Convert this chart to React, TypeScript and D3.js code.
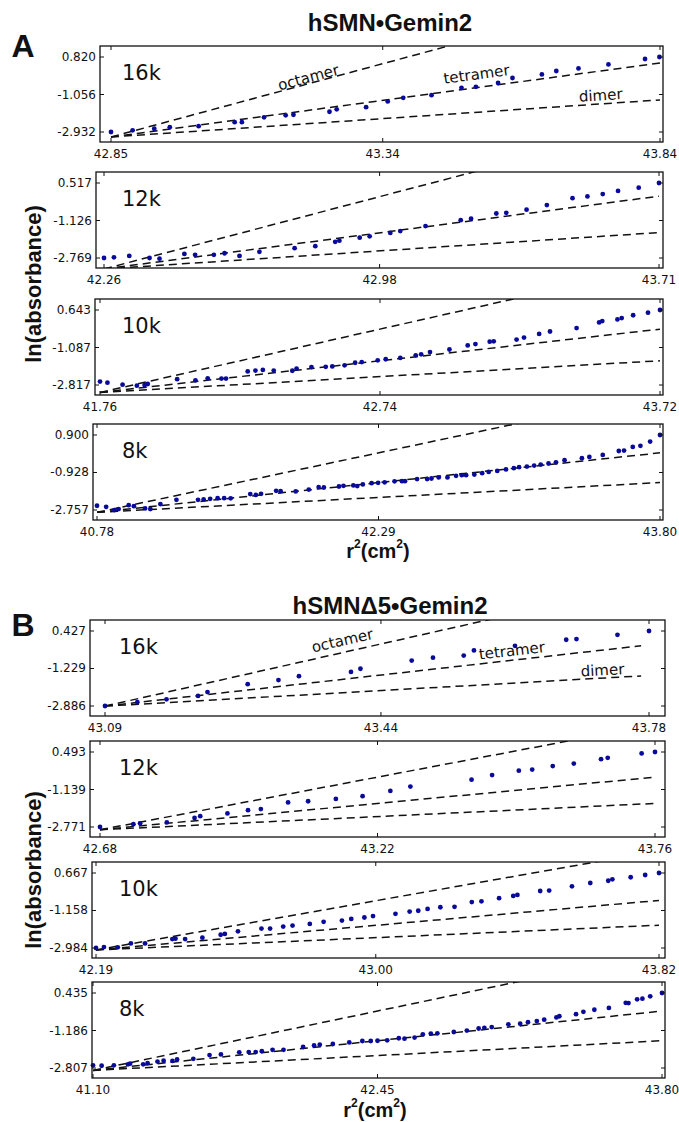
import React from 'react';
import * as d3 from 'd3';

// ---------- DATA ----------
// Panel A: hSMN•Gemin2
const A16_R2 = [42.85,42.889,42.928,42.956,43.008,43.073,43.086,43.126,43.165,43.179,43.244,43.257,43.310,43.349,43.377,43.428,43.482,43.508,43.548,43.574,43.627,43.653,43.693,43.747,43.813,43.839];
const A16_LN = [-2.932,-2.85,-2.77,-2.69,-2.64,-2.44,-2.44,-2.20,-2.10,-2.07,-1.92,-1.80,-1.69,-1.40,-1.22,-1.09,-0.72,-0.67,-0.48,-0.23,-0.05,0.12,0.25,0.45,0.72,0.82];

const A12_R2 = [42.26,42.286,42.326,42.379,42.405,42.470,42.498,42.547,42.575,42.614,42.666,42.758,42.812,42.864,42.875,42.928,42.954,43.008,43.034,43.100,43.192,43.219,43.285,43.311,43.364,43.417,43.484,43.523,43.563,43.603,43.657,43.71];
const A12_LN = [-2.77,-2.74,-2.68,-2.77,-2.80,-2.59,-2.63,-2.63,-2.56,-2.68,-2.50,-2.34,-2.25,-2.06,-2.01,-1.88,-1.82,-1.67,-1.59,-1.37,-1.11,-1.05,-0.82,-0.79,-0.65,-0.45,-0.15,-0.07,0.03,0.17,0.31,0.517];

const A10_R2 = [41.76,41.786,41.839,41.889,41.916,41.927,42.030,42.094,42.137,42.185,42.201,42.277,42.304,42.330,42.368,42.433,42.448,42.500,42.550,42.573,42.616,42.653,42.676,42.732,42.760,42.811,42.865,42.884,42.915,42.983,43.047,43.074,43.124,43.138,43.218,43.244,43.297,43.335,43.428,43.507,43.518,43.571,43.586,43.626,43.678,43.72];
const A10_LN = [-2.66,-2.71,-2.80,-2.85,-2.82,-2.77,-2.55,-2.60,-2.51,-2.52,-2.52,-2.19,-2.15,-2.12,-2.15,-2.16,-2.06,-1.99,-1.98,-1.96,-1.91,-1.79,-1.76,-1.68,-1.63,-1.57,-1.45,-1.40,-1.30,-1.18,-0.99,-0.93,-0.82,-0.80,-0.72,-0.63,-0.46,-0.35,-0.19,0.07,0.13,0.21,0.27,0.40,0.52,0.643];

const A8_R2 = [40.78,40.829,40.873,40.896,40.950,40.978,41.038,41.066,41.120,41.206,41.322,41.352,41.387,41.427,41.462,41.497,41.602,41.632,41.660,41.741,41.765,41.846,41.916,41.969,41.997,42.078,42.102,42.155,42.176,42.206,42.253,42.288,42.323,42.376,42.416,42.432,42.497,42.551,42.574,42.613,42.660,42.706,42.737,42.760,42.804,42.846,42.881,42.927,42.974,43.016,43.044,43.086,43.125,43.160,43.202,43.242,43.288,43.381,43.421,43.493,43.579,43.607,43.654,43.695,43.747,43.80];
const A8_LN = [-2.55,-2.60,-2.76,-2.71,-2.52,-2.57,-2.68,-2.71,-2.47,-2.26,-2.26,-2.24,-2.21,-2.18,-2.18,-2.19,-1.98,-2.02,-1.97,-1.82,-1.84,-1.85,-1.76,-1.64,-1.66,-1.61,-1.58,-1.56,-1.59,-1.51,-1.45,-1.43,-1.41,-1.36,-1.35,-1.35,-1.25,-1.25,-1.22,-1.17,-1.17,-1.09,-1.06,-1.06,-1.03,-0.96,-0.90,-0.85,-0.78,-0.72,-0.67,-0.64,-0.59,-0.54,-0.49,-0.43,-0.33,-0.23,-0.17,-0.07,0.12,0.14,0.32,0.37,0.58,0.90];

// Panel B: hSMNΔ5•Gemin2
const B16_R2 = [43.09,43.131,43.168,43.208,43.220,43.271,43.310,43.336,43.402,43.414,43.479,43.506,43.545,43.558,43.610,43.675,43.688,43.740,43.78];
const B16_LN = [-2.886,-2.72,-2.59,-2.44,-2.27,-1.92,-1.74,-1.57,-1.38,-1.24,-0.88,-0.75,-0.66,-0.43,-0.23,0.04,0.07,0.26,0.427];

const B12_R2 = [42.68,42.745,42.758,42.810,42.864,42.875,42.928,42.968,42.993,43.046,43.085,43.139,43.191,43.245,43.284,43.403,43.443,43.495,43.521,43.561,43.602,43.655,43.668,43.734,43.76];
const B12_LN = [-2.771,-2.65,-2.61,-2.57,-2.38,-2.30,-2.18,-2.04,-1.99,-1.70,-1.65,-1.55,-1.43,-1.20,-1.01,-0.71,-0.51,-0.32,-0.27,-0.12,-0.01,0.18,0.24,0.43,0.493];

const B10_R2 = [42.19,42.213,42.253,42.291,42.332,42.411,42.420,42.448,42.498,42.551,42.563,42.601,42.669,42.694,42.732,42.759,42.809,42.849,42.902,42.929,42.967,42.992,43.057,43.098,43.123,43.150,43.187,43.228,43.278,43.306,43.357,43.398,43.410,43.476,43.502,43.568,43.621,43.673,43.685,43.738,43.780,43.82];
const B10_LN = [-2.984,-2.94,-2.95,-2.76,-2.76,-2.55,-2.53,-2.55,-2.48,-2.34,-2.30,-2.17,-2.04,-2.04,-1.94,-1.89,-1.81,-1.71,-1.65,-1.57,-1.50,-1.43,-1.32,-1.21,-1.17,-1.08,-1.00,-0.98,-0.75,-0.71,-0.56,-0.45,-0.40,-0.21,-0.19,0.02,0.18,0.29,0.36,0.46,0.57,0.667];

const B8_R2 = [41.10,41.141,41.199,41.266,41.276,41.338,41.359,41.406,41.435,41.477,41.499,41.576,41.653,41.707,41.794,41.839,41.872,41.901,41.952,42.004,42.097,42.149,42.176,42.238,42.316,42.378,42.418,42.45,42.496,42.551,42.578,42.626,42.665,42.703,42.734,42.812,42.874,42.930,42.957,42.992,43.071,43.127,43.164,43.206,43.241,43.299,43.313,43.392,43.427,43.479,43.548,43.628,43.641,43.682,43.707,43.744,43.80];
const B8_LN = [-2.69,-2.71,-2.69,-2.65,-2.62,-2.65,-2.60,-2.53,-2.49,-2.50,-2.44,-2.41,-2.25,-2.22,-2.13,-2.12,-2.12,-2.08,-2.02,-2.02,-1.90,-1.83,-1.80,-1.77,-1.70,-1.64,-1.64,-1.63,-1.61,-1.52,-1.54,-1.49,-1.35,-1.32,-1.31,-1.25,-1.19,-1.10,-1.07,-1.04,-0.92,-0.89,-0.83,-0.78,-0.72,-0.62,-0.57,-0.48,-0.38,-0.29,-0.21,0.01,0.00,0.16,0.19,0.29,0.435];

// tick values (x: r², y: ln(absorbance))
const A16_XT = [42.85, 43.34, 43.84]; const A16_YT = [-2.932, -1.056, 0.820];
const A12_XT = [42.26, 42.98, 43.71]; const A12_YT = [-2.769, -1.126, 0.517];
const A10_XT = [41.76, 42.74, 43.72]; const A10_YT = [-2.817, -1.087, 0.643];
const A8_XT = [40.78, 42.29, 43.80];  const A8_YT = [-2.757, -0.928, 0.900];
const B16_XT = [43.09, 43.44, 43.78]; const B16_YT = [-2.886, -1.229, 0.427];
const B12_XT = [42.68, 43.22, 43.76]; const B12_YT = [-2.771, -1.139, 0.493];
const B10_XT = [42.19, 43.00, 43.82]; const B10_YT = [-2.984, -1.158, 0.667];
const B8_XT = [41.10, 42.45, 43.80];  const B8_YT = [-2.807, -1.186, 0.435];

// model lines: start point [r², ln] , end r², slopes [dimer, tetramer, octamer]
const A16_LINE = [42.85, -3.18, 43.84]; const A16_SLOPES = [1.87, 3.74, 7.48];
const A12_LINE = [42.26, -3.25, 43.71]; const A12_SLOPES = [1.1, 2.2, 4.4];
const A10_LINE = [41.76, -3.16, 43.72]; const A10_SLOPES = [0.745, 1.49, 2.98];
const A8_LINE = [40.78, -2.87, 43.80];  const A8_SLOPES = [0.48, 0.96, 1.92];
const B16_LINE = [43.09, -2.89, 43.77]; const B16_SLOPES = [1.96, 3.92, 7.84];
const B12_LINE = [42.68, -2.89, 43.76]; const B12_SLOPES = [1.06, 2.12, 4.24];
const B10_LINE = [42.19, -3.08, 43.82]; const B10_SLOPES = [0.74, 1.48, 2.96];
const B8_LINE = [41.10, -2.91, 43.80];  const B8_SLOPES = [0.475, 0.95, 1.90];

const SPEEDS = ['16k', '12k', '10k', '8k'];
const LINE_NAMES = ['dimer', 'tetramer', 'octamer'];
// label anchors [r², ln] for dimer, tetramer, octamer
const A16_LABELS = [[43.733, -1.10], [43.509, -0.05], [43.206, -0.21]];
const B16_LABELS = [[43.721, -1.31], [43.606, -0.45], [43.391, 0.0]];

const PANELS = [
  { key: 'A16', r2: A16_R2, ln: A16_LN, xt: A16_XT, yt: A16_YT, line: A16_LINE, slopes: A16_SLOPES, speed: SPEEDS[0], labels: A16_LABELS },
  { key: 'A12', r2: A12_R2, ln: A12_LN, xt: A12_XT, yt: A12_YT, line: A12_LINE, slopes: A12_SLOPES, speed: SPEEDS[1] },
  { key: 'A10', r2: A10_R2, ln: A10_LN, xt: A10_XT, yt: A10_YT, line: A10_LINE, slopes: A10_SLOPES, speed: SPEEDS[2] },
  { key: 'A8', r2: A8_R2, ln: A8_LN, xt: A8_XT, yt: A8_YT, line: A8_LINE, slopes: A8_SLOPES, speed: SPEEDS[3] },
  { key: 'B16', r2: B16_R2, ln: B16_LN, xt: B16_XT, yt: B16_YT, line: B16_LINE, slopes: B16_SLOPES, speed: SPEEDS[0], labels: B16_LABELS },
  { key: 'B12', r2: B12_R2, ln: B12_LN, xt: B12_XT, yt: B12_YT, line: B12_LINE, slopes: B12_SLOPES, speed: SPEEDS[1] },
  { key: 'B10', r2: B10_R2, ln: B10_LN, xt: B10_XT, yt: B10_YT, line: B10_LINE, slopes: B10_SLOPES, speed: SPEEDS[2] },
  { key: 'B8', r2: B8_R2, ln: B8_LN, xt: B8_XT, yt: B8_YT, line: B8_LINE, slopes: B8_SLOPES, speed: SPEEDS[3] },
];

// ---------- LAYOUT ----------
const W = 679, HGT = 1122;
const PH = 96, PAD_T = 11, PAD_B = 10, TICK = 4;
const LAYOUT: Record<string, { left: number; right: number; top: number; padL: number; padR: number; lx: number }> = {
  A16: { left: 100, right: 663, top: 46, padL: 11, padR: 3, lx: 122 },
  A12: { left: 96, right: 663, top: 172, padL: 8, padR: 4, lx: 122 },
  A10: { left: 95, right: 663, top: 299, padL: 5, padR: 3, lx: 122 },
  A8: { left: 93, right: 663, top: 424, padL: 4, padR: 3, lx: 122 },
  B16: { left: 90, right: 665, top: 620, padL: 15, padR: 16, lx: 119 },
  B12: { left: 90, right: 665, top: 741, padL: 10, padR: 10, lx: 119 },
  B10: { left: 92, right: 665, top: 862, padL: 4, padR: 6, lx: 119 },
  B8: { left: 92, right: 665, top: 982, padL: 1, padR: 3, lx: 119 },
};

const TICK_FONT = '"DejaVu Sans", Verdana, sans-serif';
const BOLD_FONT = '"Liberation Sans", Arial, sans-serif';
const DOT = '#0a0a9a';

function Panel({ p }: { p: any }) {
  const L = LAYOUT[p.key];
  const top = L.top, bottom = L.top + PH;
  const x = d3.scaleLinear().domain([p.xt[0], p.xt[2]]).range([L.left + L.padL, L.right - L.padR]);
  const y = d3.scaleLinear().domain([p.yt[0], p.yt[2]]).range([bottom - PAD_B, top + PAD_T]);
  const line = d3.line<[number, number]>().x(d => x(d[0])).y(d => y(d[1]));
  const [x0, y0, x1] = p.line;
  const clipId = 'clip-' + p.key;
  const pts = d3.range(Math.min(p.r2.length, p.ln.length)).map(i => [p.r2[i], p.ln[i]]);
  const angle = (s: number) => {
    const dx = x(x0 + 1) - x(x0);
    const dy = y(y0 + s) - y(y0);
    return (Math.atan2(dy, dx) * 180) / Math.PI;
  };
  return (
    <g>
      <defs>
        <clipPath id={clipId}>
          <rect x={L.left} y={top} width={L.right - L.left} height={PH} />
        </clipPath>
      </defs>
      <g clipPath={`url(#${clipId})`}>
        {p.slopes.map((s: number, i: number) => (
          <path key={i} d={line([[x0, y0], [x1, y0 + s * (x1 - x0)]]) || ''} fill="none" stroke="#111" strokeWidth={1.5} strokeDasharray="8,5" />
        ))}
      </g>
      {pts.map((d, i) => (
        <circle key={i} cx={x(d[0])} cy={y(d[1])} r={2.4} fill={DOT} />
      ))}
      <rect x={L.left} y={top} width={L.right - L.left} height={PH} fill="none" stroke="#111" strokeWidth={1.3} />
      {p.xt.map((t: number, i: number) => (
        <g key={'x' + i}>
          <line x1={x(t)} x2={x(t)} y1={bottom} y2={bottom - TICK} stroke="#111" strokeWidth={1} />
          <line x1={x(t)} x2={x(t)} y1={top} y2={top + TICK} stroke="#111" strokeWidth={1} />
          <text x={x(t)} y={bottom + 12} textAnchor="middle" dominantBaseline="central" fontFamily={TICK_FONT} fontSize={12} fill="#111">{t.toFixed(2)}</text>
        </g>
      ))}
      {p.yt.map((t: number, i: number) => (
        <g key={'y' + i}>
          <line x1={L.left} x2={L.left + TICK} y1={y(t)} y2={y(t)} stroke="#111" strokeWidth={1} />
          <line x1={L.right} x2={L.right - TICK} y1={y(t)} y2={y(t)} stroke="#111" strokeWidth={1} />
          <text x={L.left - 4} y={y(t)} textAnchor="end" dominantBaseline="central" fontFamily={TICK_FONT} fontSize={12} fill="#111">{t.toFixed(3)}</text>
        </g>
      ))}
      <text x={L.lx} y={top + 27} dominantBaseline="central" fontFamily={TICK_FONT} fontSize={21} fill="#111">{p.speed}</text>
      {p.labels && p.labels.map((a: number[], i: number) => (
        <text key={'l' + i} transform={`translate(${x(a[0])},${y(a[1])}) rotate(${angle(p.slopes[i])})`} textAnchor="middle" dominantBaseline="central" fontFamily={TICK_FONT} fontSize={15} fill="#111">{LINE_NAMES[i]}</text>
      ))}
    </g>
  );
}

function XLabel({ cx, cy }: { cx: number; cy: number }) {
  return (
    <text x={cx} y={cy} textAnchor="middle" dominantBaseline="central" fontFamily={BOLD_FONT} fontWeight="bold" fontSize={20} fill="#111">
      r<tspan fontSize={12} dy={-7}>2</tspan><tspan dy={7}>(cm</tspan><tspan fontSize={12} dy={-7}>2</tspan><tspan dy={7}>)</tspan>
    </text>
  );
}

export default function App() {
  return (
    <svg width={W} height={HGT} style={{ display: 'block', position: 'absolute', left: 0, top: 0, background: '#fff' }}>
      <rect width={W} height={HGT} fill="#fff" />
      <text x={390} y={22} textAnchor="middle" dominantBaseline="central" fontFamily={BOLD_FONT} fontWeight="bold" fontSize={24} fill="#111">hSMN•Gemin2</text>
      <text x={23} y={46} textAnchor="middle" dominantBaseline="central" fontFamily={BOLD_FONT} fontWeight="bold" fontSize={32} fill="#111">A</text>
      <text x={390} y={605} textAnchor="middle" dominantBaseline="central" fontFamily={BOLD_FONT} fontWeight="bold" fontSize={24} fill="#111">hSMNΔ5•Gemin2</text>
      <text x={23} y={625} textAnchor="middle" dominantBaseline="central" fontFamily={BOLD_FONT} fontWeight="bold" fontSize={32} fill="#111">B</text>
      <text transform="translate(33,284) rotate(-90)" textAnchor="middle" dominantBaseline="central" fontFamily={BOLD_FONT} fontWeight="bold" fontSize={22} fill="#111">ln(absorbance)</text>
      <text transform="translate(33,870) rotate(-90)" textAnchor="middle" dominantBaseline="central" fontFamily={BOLD_FONT} fontWeight="bold" fontSize={22} fill="#111">ln(absorbance)</text>
      <XLabel cx={378} cy={551} />
      <XLabel cx={375} cy={1110} />
      {PANELS.map(p => <Panel key={p.key} p={p} />)}
    </svg>
  );
}
